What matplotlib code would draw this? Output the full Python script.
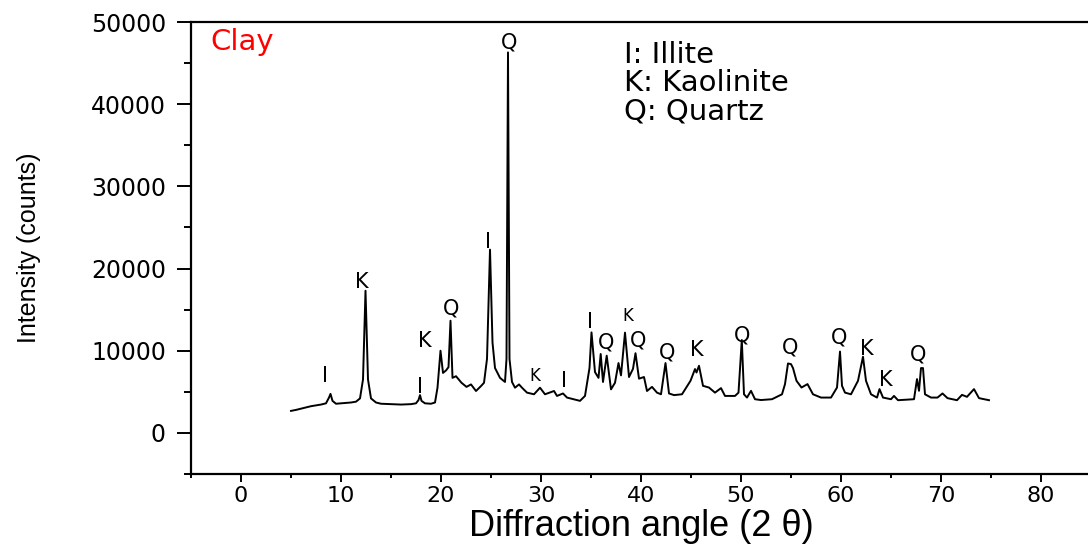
import matplotlib
matplotlib.use("Agg")
import matplotlib.pyplot as plt
from matplotlib import font_manager
from matplotlib.ticker import MultipleLocator

# XRD pattern of the clay sample
two_theta = [5.0, 5.5, 6.0, 6.5, 7.0, 7.5, 8.0, 8.5, 8.8, 8.95, 9.15, 9.5, 10.0, 10.5,
             11.0, 11.5, 11.9, 12.2, 12.45, 12.7, 13.0, 13.5, 14.0, 15.0, 16.0, 17.0,
             17.5, 17.75, 17.9, 18.05, 18.4, 19.0, 19.4, 19.65, 19.95, 20.2, 20.5,
             20.75, 20.95, 21.15, 21.5, 22.05, 22.55, 23.0, 23.5, 24.0, 24.3, 24.6,
             24.9, 25.15, 25.4, 25.9, 26.4, 26.55, 26.7, 26.85, 27.1, 27.4, 27.8, 28.1,
             28.6, 29.3, 29.9, 30.4, 31.3, 31.6, 32.2, 32.6, 33.9, 34.4, 34.85, 35.05,
             35.4, 35.75, 35.97, 36.2, 36.57, 37.0, 37.4, 37.75, 38.0, 38.4, 38.8,
             39.2, 39.45, 39.8, 40.3, 40.6, 41.1, 41.6, 42.0, 42.45, 42.8, 43.3, 44.1,
             44.95, 45.4, 45.55, 45.8, 46.2, 46.8, 47.4, 48.0, 48.4, 49.4, 49.75,
             50.08, 50.3, 50.6, 51.0, 51.4, 52.0, 53.1, 54.1, 54.4, 54.7, 55.0, 55.2,
             55.55, 56.05, 56.65, 57.2, 58.0, 59.0, 59.6, 59.9, 60.1, 60.4, 61.0,
             61.7, 62.2, 62.5, 63.0, 63.6, 63.85, 64.2, 65.0, 65.3, 65.7, 67.3, 67.6,
             67.8, 68.0, 68.2, 68.4, 69.0, 69.65, 70.15, 70.65, 71.6, 72.1, 72.6,
             73.3, 73.8, 74.8]
counts = [2680, 2800, 2950, 3100, 3250, 3350, 3450, 3600, 4300, 4750, 3900, 3550, 3600, 3650,
          3700, 3800, 4200, 6500, 17300, 6500, 4200, 3700, 3550, 3500, 3450, 3500,
          3600, 4000, 4600, 3900, 3600, 3550, 3700, 5500, 10000, 7300, 7600,
          8000, 13650, 6700, 6900, 6100, 5600, 5900, 5100, 5700, 6100, 9000,
          22300, 11000, 7900, 6700, 6200, 9000, 46300, 9000, 6200, 5500, 5900, 5500,
          4900, 4700, 5500, 4700, 5100, 4500, 4800, 4300, 3900, 4500, 7900, 12230,
          7400, 6700, 9600, 6200, 9400, 5300, 6100, 8500, 7000, 12200, 6800,
          7800, 9700, 6600, 6800, 5100, 5600, 4900, 4700, 8500, 4800, 4600, 4700,
          6340, 7770, 7350, 8170, 5730, 5520, 4900, 5450, 4500, 4500, 4900,
          11300, 4700, 4300, 5120, 4100, 4000, 4100, 4700, 5940, 8450, 8370, 7890,
          6340, 5520, 5940, 4700, 4300, 4300, 5520, 9900, 5730, 4900, 4700,
          6340, 9270, 6340, 4700, 4300, 5330, 4300, 4100, 4500, 3980, 4100, 6550,
          5120, 7890, 7890, 4700, 4300, 4300, 4800, 4230, 3980, 4630, 4390,
          5330, 4230, 3980]

# phase labels above the peaks
peak_text = ["I", "K", "K", "I", "Q", "I", "Q", "K", "I", "I", "Q", "K", "Q", "Q",
             "K", "Q", "Q", "Q", "K", "K", "Q"]
peak_x = [8.39, 12.09, 18.38, 17.88, 20.98, 24.68, 26.77, 29.37, 32.27, 34.87, 36.46,
          38.66, 39.66, 42.56, 45.55, 50.15, 54.95, 59.84, 62.54, 64.44, 67.73]
peak_y = [6930, 18370, 11190, 5600, 15090, 23240, 47450, 6930, 6330, 13500, 10950,
          14230, 11190, 9730, 10100, 11800, 10340, 11560, 10220, 6450, 9490]
peak_size = [15, 15, 15, 15, 15, 15, 15, 12, 15, 15, 15, 12, 15, 15,
             15, 15, 15, 15, 15, 15, 15]

legend_lines = ["I: Illite", "K: Kaolinite", "Q: Quartz"]
legend_y = [45990, 42520, 39050]

names = {f.name for f in font_manager.fontManager.ttflist}
narrow = "Liberation Sans Narrow" if "Liberation Sans Narrow" in names else "Liberation Sans"

fig = plt.figure(figsize=(10.88, 5.47), dpi=100)
ax = fig.add_axes([191 / 1088, 73 / 547, 900 / 1088, 452 / 547])

ax.plot(two_theta, counts, color="black", lw=1.4)

for t, x, y, s in zip(peak_text, peak_x, peak_y, peak_size):
    ax.text(x, y, t, ha="center", va="center", fontsize=s, family="DejaVu Sans")

ax.text(-3.1, 47570, "Clay", color="red", fontsize=21, family="DejaVu Sans",
        ha="left", va="center")
for t, y in zip(legend_lines, legend_y):
    ax.text(38.3, y, t, fontsize=21, family="DejaVu Sans", ha="left", va="center")

ax.set_xlim(-5, 85)
ax.set_ylim(-5000, 50000)
ax.xaxis.set_major_locator(MultipleLocator(10))
ax.xaxis.set_minor_locator(MultipleLocator(5))
ax.yaxis.set_major_locator(MultipleLocator(10000))
ax.yaxis.set_minor_locator(MultipleLocator(5000))

for side in ["left", "bottom", "top"]:
    ax.spines[side].set_linewidth(1.6)
ax.spines["right"].set_visible(False)

ax.tick_params(axis="y", which="major", direction="out", length=10, width=1.4, pad=8,
               labelsize=17)
ax.tick_params(axis="y", which="minor", direction="out", length=5, width=1.4)
ax.tick_params(axis="x", which="major", direction="out", length=6, width=1.4, pad=3,
               labelsize=16)
ax.tick_params(axis="x", which="minor", direction="out", length=3, width=1.4)
for lab in ax.get_xticklabels() + ax.get_yticklabels():
    lab.set_family("DejaVu Sans")

ax.set_xlabel("Diffraction angle (2 θ)", fontsize=26, family="Liberation Sans", labelpad=2)
ax.set_ylabel("Intensity (counts)", fontsize=18, family=narrow, labelpad=36)

fig.savefig("out.png", dpi=100)
